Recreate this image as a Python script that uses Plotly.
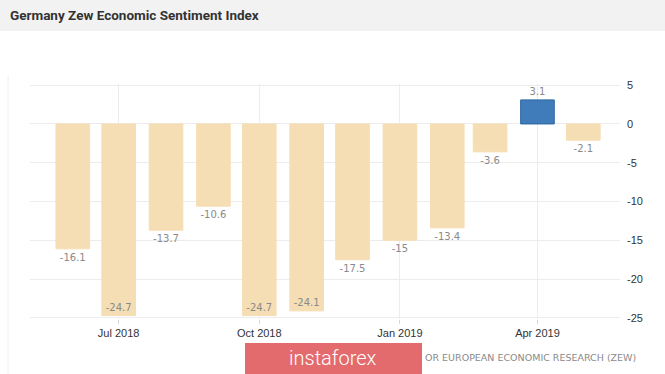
import plotly.graph_objects as go

months = ["2018-06-01", "2018-07-01", "2018-08-01", "2018-09-01", "2018-10-01", "2018-11-01",
          "2018-12-01", "2019-01-01", "2019-02-01", "2019-03-01", "2019-04-01", "2019-05-01"]
values = [-16.1, -24.7, -13.7, -10.6, -24.7, -24.1, -17.5, -15.0, -13.4, -3.6, 3.1, -2.1]
labels = ["-16.1", "-24.7", "-13.7", "-10.6", "-24.7", "-24.1", "-17.5", "-15", "-13.4", "-3.6", "3.1", "-2.1"]
y_ticks = [5, 0, -5, -10, -15, -20, -25]
title_text = "Germany Zew Economic Sentiment Index"
source_text = "OR EUROPEAN ECONOMIC RESEARCH (ZEW)"
brand_text = "instaforex"

W, H = 665, 374
L, R, T, B = 30, 45, 84, 55
PW, PH = W - L - R, H - T - B

def px_x(p):
    return (p - L) / PW

def px_y(p):
    return (H - B - p) / PH

WHEAT = "#f5deb3"
BLUE = "#3f7cb9"
colors = [BLUE if v > 0 else WHEAT for v in values]
line_colors = ["#2c67a3" if v > 0 else WHEAT for v in values]
positions = ["inside" if v < -24 else "outside" for v in values]

fig = go.Figure()
fig.add_trace(go.Bar(
    x=months, y=values, text=labels,
    textposition=positions, insidetextanchor="end",
    textangle=0, constraintext="none", cliponaxis=False,
    textfont=dict(family="DejaVu Sans", size=10, color="#8a8a8a"),
    marker=dict(color=colors, line=dict(color=line_colors, width=1)),
    width=22 * 86400000,
    hoverinfo="skip",
))

fig.update_layout(
    width=W, height=H,
    margin=dict(l=L, r=R, t=T, b=B),
    paper_bgcolor="white", plot_bgcolor="white",
    showlegend=False,
    xaxis=dict(
        type="date", range=["2018-05-04", "2019-05-25"],
        tick0="2018-07-01", dtick="M3", tickformat="%b %Y",
        showgrid=True, gridcolor="#ececec", gridwidth=1,
        ticks="outside", ticklen=4, tickcolor="#d8d8d8",
        showline=False, zeroline=False,
        tickfont=dict(family="Liberation Sans", size=11, color="#333333"),
    ),
    yaxis=dict(
        side="right", range=[-25.15, 5.15],
        tickvals=y_ticks, ticktext=[str(t) for t in y_ticks],
        showgrid=True, gridcolor="#ececec", gridwidth=1,
        zeroline=False, showline=False, ticks="",
        ticklabelstandoff=6,
        tickfont=dict(family="Liberation Sans", size=11, color="#333333"),
    ),
    shapes=[
        dict(type="rect", xref="paper", yref="paper",
             x0=px_x(0), x1=px_x(W), y0=px_y(31), y1=px_y(0),
             fillcolor="#f2f2f2", line=dict(width=0), layer="below"),
        dict(type="line", xref="paper", yref="paper",
             x0=px_x(8), x1=px_x(8), y0=px_y(75), y1=px_y(H),
             line=dict(color="#f0f0f0", width=1), layer="below"),
        dict(type="rect", xref="paper", yref="paper",
             x0=px_x(245), x1=px_x(422), y0=px_y(374), y1=px_y(343),
             fillcolor="#e46b6d", line=dict(width=0), layer="above"),
    ],
    annotations=[
        dict(text=title_text, xref="paper", yref="paper", x=px_x(8), y=px_y(15),
             xanchor="left", yanchor="middle", showarrow=False,
             font=dict(family="Roboto", size=13.5, color="#333333", weight="bold")),
        dict(text=brand_text, xref="paper", yref="paper", x=px_x(333), y=px_y(358),
             xanchor="center", yanchor="middle", showarrow=False,
             font=dict(family="Roboto", size=20, color="white", weight=300)),
        dict(text=source_text, xref="paper", yref="paper", x=px_x(423), y=px_y(357),
             xanchor="left", yanchor="middle", showarrow=False,
             font=dict(family="DejaVu Sans", size=9.5, color="#8a8a8a")),
    ],
)

fig.write_html(
    "out.html",
    config={"displayModeBar": False},
    post_script="document.body.style.margin='0';document.body.style.overflow='hidden';",
)
